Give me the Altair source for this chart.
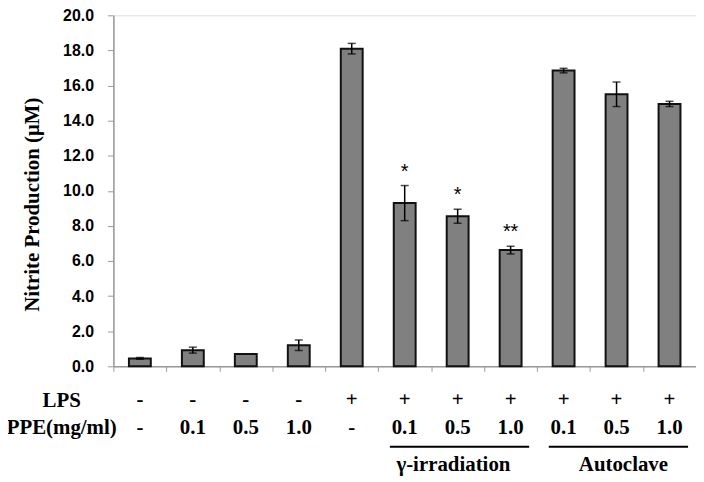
import altair as alt
import pandas as pd

idx = [str(i) for i in range(1, 12)]
lps = ["-", "-", "-", "-", "+", "+", "+", "+", "+", "+", "+"]
ppe = ["-", "0.1", "0.5", "1.0", "-", "0.1", "0.5", "1.0", "0.1", "0.5", "1.0"]
values = [0.45, 0.92, 0.70, 1.20, 18.1, 9.3, 8.55, 6.62, 16.85, 15.5, 14.95]
errors = [0.05, 0.17, 0.0, 0.30, 0.30, 1.0, 0.40, 0.22, 0.13, 0.70, 0.15]
stars = ["", "", "", "", "", "*", "*", "**", "", "", ""]
y_ticks = [0, 2, 4, 6, 8, 10, 12, 14, 16, 18, 20]

group_names = ["γ-irradiation", "Autoclave"]
group_start = ["6", "9"]
group_mid = ["7", "10"]
group_end = ["8", "11"]

row_labels = ["LPS", "PPE(mg/ml)"]

df = pd.DataFrame({"idx": idx, "lps": lps, "ppe": ppe, "value": values, "err": errors, "star": stars})
df["lo"] = df["value"] - df["err"]
df["hi"] = df["value"] + df["err"]
gdf = pd.DataFrame({"name": group_names, "start": group_start, "mid": group_mid, "end": group_end})
rows = pd.DataFrame({"label": row_labels, "row": [0, 1]})

serif = "Liberation Serif"
sans = "Liberation Sans"

xscale = alt.Scale(domain=idx, paddingInner=0, paddingOuter=0)
x = alt.X("idx:N", scale=xscale, sort=idx,
          axis=alt.Axis(labels=False, title=None, tickBand="extent", tickSize=5,
                        domainColor="#999999", tickColor="#999999", domainWidth=1.5, tickWidth=1))
yscale = alt.Scale(domain=[0, 20])
yaxis = alt.Axis(values=y_ticks, format=".1f", grid=False,
                 title="Nitrite Production (μM)", titleFont=serif, titleFontSize=21,
                 titleFontWeight="bold", titleColor="black", titlePadding=20, titleY=190,
                 labelFont=sans, labelFontSize=16, labelFontWeight="bold", labelColor="black",
                 labelPadding=14, tickSize=6, domainColor="#999999", tickColor="#999999",
                 domainWidth=1.5)
TITLE = "Nitrite Production (μM)"

def Y(field):
    return alt.Y(field, scale=yscale, axis=yaxis, title=TITLE)

xs = alt.X("idx:N", scale=xscale, sort=idx)
base = alt.Chart(df)
bars = base.mark_bar(size=22, color="#808080", stroke="#111111", strokeWidth=2).encode(x=x, y=Y("value:Q"))
eb = base.transform_filter("datum.err > 0")
err_rule = eb.mark_rule(color="black", strokeWidth=1.5).encode(
    x=xs, y=Y("lo:Q"), y2="hi:Q")
cap_hi = eb.mark_tick(color="black", size=8, thickness=1.5).encode(x=xs, y=Y("hi:Q"))
cap_lo = eb.mark_tick(color="black", size=8, thickness=1.5).encode(x=xs, y=Y("lo:Q"))
star_txt = base.transform_filter("datum.star != ''").mark_text(
    font=sans, fontSize=20, dy=-4, baseline="bottom").encode(
    x=xs, y=Y("hi:Q"), text="star:N")

lps_txt = base.mark_text(font=serif, fontSize=21, fontWeight="bold", baseline="middle").encode(
    x=xs, y=alt.value(387), text="lps:N")
ppe_txt = base.mark_text(font=serif, fontSize=21, fontWeight="bold", baseline="middle").encode(
    x=xs, y=alt.value(415), text="ppe:N")

rbase = alt.Chart(rows)
row_lbl1 = rbase.transform_filter("datum.row == 0").mark_text(
    font=serif, fontSize=21, fontWeight="bold", baseline="middle").encode(
    x=alt.value(-52), y=alt.value(388), text="label:N")
row_lbl2 = rbase.transform_filter("datum.row == 1").mark_text(
    font=serif, fontSize=21, fontWeight="bold", baseline="middle").encode(
    x=alt.value(-52), y=alt.value(415), text="label:N")

grp_rule = alt.Chart(gdf).mark_rule(color="black", strokeWidth=2).encode(
    x=alt.X("start:N", scale=xscale, sort=idx, bandPosition=0.22),
    x2=alt.X2("end:N", bandPosition=0.85),
    y=alt.value(434))
grp_txt1 = alt.Chart(gdf).transform_filter("datum.mid == '7'").mark_text(
    font=serif, fontSize=21, fontWeight="bold", baseline="middle").encode(
    x=alt.X("mid:N", scale=xscale, sort=idx, bandPosition=0.42), y=alt.value(452), text="name:N")
grp_txt2 = alt.Chart(gdf).transform_filter("datum.mid == '10'").mark_text(
    font=serif, fontSize=21, fontWeight="bold", baseline="middle").encode(
    x=alt.X("mid:N", scale=xscale, sort=idx, bandPosition=0.63), y=alt.value(452), text="name:N")

chart = alt.layer(bars, err_rule, cap_hi, cap_lo, star_txt, lps_txt, ppe_txt, row_lbl1, row_lbl2,
                  grp_rule, grp_txt1, grp_txt2).properties(
    width=586, height=353,
    autosize=alt.AutoSizeParams(type="none"),
    padding={"left": 106, "top": 6, "right": 0, "bottom": 112},
).configure_view(stroke=None).configure(background="white")

chart.save("out.html", embed_options={"renderer": "svg", "actions": False})
